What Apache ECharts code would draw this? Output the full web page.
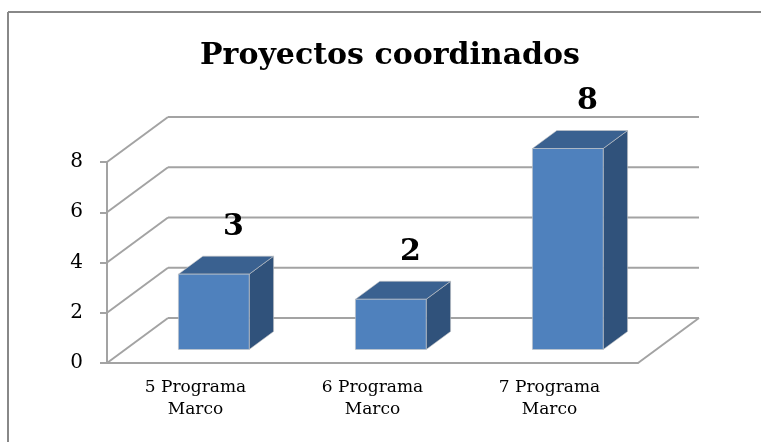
<!DOCTYPE html>
<html>
<head>
<meta charset="utf-8">
<script src="https://cdn.jsdelivr.net/npm/echarts@6/dist/echarts.min.js"></script>
<style>
  html, body { margin: 0; padding: 0; background: #fff; }
  #main { width: 761px; height: 442px; }
</style>
</head>
<body>
<div id="main"></div>
<script>
// datos
const categories = ['5 Programa\nMarco', '6 Programa\nMarco', '7 Programa\nMarco'];
const proyectos = [3, 2, 8];
const yTicks = [0, 2, 4, 6, 8];

// profundidad del efecto 3D (px)
const DX = 61, DY = -45;
const gridGray = '#a3a3a3';
const serif = 'DejaVu Serif';

// paredes: lineas del fondo + diagonales
function renderWall(params, api) {
  const cs = params.coordSys;
  const v = api.value(1);
  const y = api.coord([0, v])[1];
  const x0 = cs.x, x1 = cs.x + cs.width;
  const style = { stroke: gridGray, lineWidth: 2 };
  const children = [
    { type: 'line', shape: { x1: x0, y1: y, x2: x0 + DX, y2: y + DY }, style },
    { type: 'line', shape: { x1: x0 + DX, y1: y + DY, x2: x1 + DX, y2: y + DY }, style }
  ];
  if (v === 0) {
    children.push({ type: 'line', shape: { x1: x1, y1: y, x2: x1 + DX, y2: y + DY }, style });
  }
  return { type: 'group', children };
}

// barras 3D
function renderBar(params, api) {
  const i = api.value(0), v = api.value(1);
  const top = api.coord([i, v]);
  const base = api.coord([i, 0]);
  const bw = api.size([1, 0])[0] * 0.4;
  const f = 0.3, d = 0.4;
  const x0 = top[0] - bw / 2 + f * DX, x1 = x0 + bw;
  const yb = base[1] + f * DY, yt = top[1] + f * DY;
  const ox = d * DX, oy = d * DY;
  return {
    type: 'group',
    children: [
      { type: 'polygon', shape: { points: [[x1, yt], [x1 + ox, yt + oy], [x1 + ox, yb + oy], [x1, yb]] },
        style: { fill: '#30527b', stroke: '#c8c8c8', lineWidth: 0.6 } },
      { type: 'polygon', shape: { points: [[x0, yt], [x1, yt], [x1 + ox, yt + oy], [x0 + ox, yt + oy]] },
        style: { fill: '#3a6190', stroke: '#c8c8c8', lineWidth: 0.6 } },
      { type: 'rect', shape: { x: x0, y: yt, width: bw, height: yb - yt },
        style: { fill: '#4f81bd', stroke: '#c8c8c8', lineWidth: 0.6 } },
      { type: 'text', x: top[0] + 0.62 * DX, y: yt + oy - 29,
        style: { text: String(v), fill: '#000', font: 'bold 30px "DejaVu Serif"', align: 'center', verticalAlign: 'middle' } }
    ]
  };
}

const chart = echarts.init(document.getElementById('main'));
chart.setOption({
  animation: false,
  title: {
    text: 'Proyectos coordinados',
    left: 390,
    textAlign: 'center',
    top: 41,
    padding: 0,
    textStyle: { fontFamily: serif, fontWeight: 'bold', fontSize: 30, color: '#000' }
  },
  grid: { left: 107, top: 162, width: 531, height: 201 },
  xAxis: {
    type: 'category',
    data: categories,
    axisLine: { lineStyle: { color: gridGray, width: 2 } },
    axisTick: { length: 6, lineStyle: { color: gridGray, width: 2 } },
    axisLabel: { margin: 14, color: '#000', fontFamily: serif, fontSize: 17, lineHeight: 22 }
  },
  yAxis: {
    type: 'value',
    min: 0,
    max: 8,
    interval: 2,
    axisLine: { show: true, lineStyle: { color: gridGray, width: 2 } },
    axisTick: { show: true, length: 7, lineStyle: { color: gridGray, width: 2 } },
    axisLabel: { margin: 24, color: '#000', fontFamily: serif, fontSize: 20 },
    splitLine: { show: false }
  },
  graphic: [
    { type: 'line', shape: { x1: 8, y1: 12, x2: 761, y2: 12 }, style: { stroke: '#888', lineWidth: 2 } },
    { type: 'line', shape: { x1: 8, y1: 12, x2: 8, y2: 442 }, style: { stroke: '#888', lineWidth: 2 } }
  ],
  series: [
    {
      type: 'custom',
      renderItem: renderWall,
      data: yTicks.map(v => [0, v]),
      encode: { x: 0, y: 1 },
      silent: true,
      z: 1
    },
    {
      type: 'custom',
      renderItem: renderBar,
      data: proyectos.map((v, i) => [i, v]),
      encode: { x: 0, y: 1 },
      z: 3
    }
  ]
});
</script>
</body>
</html>
